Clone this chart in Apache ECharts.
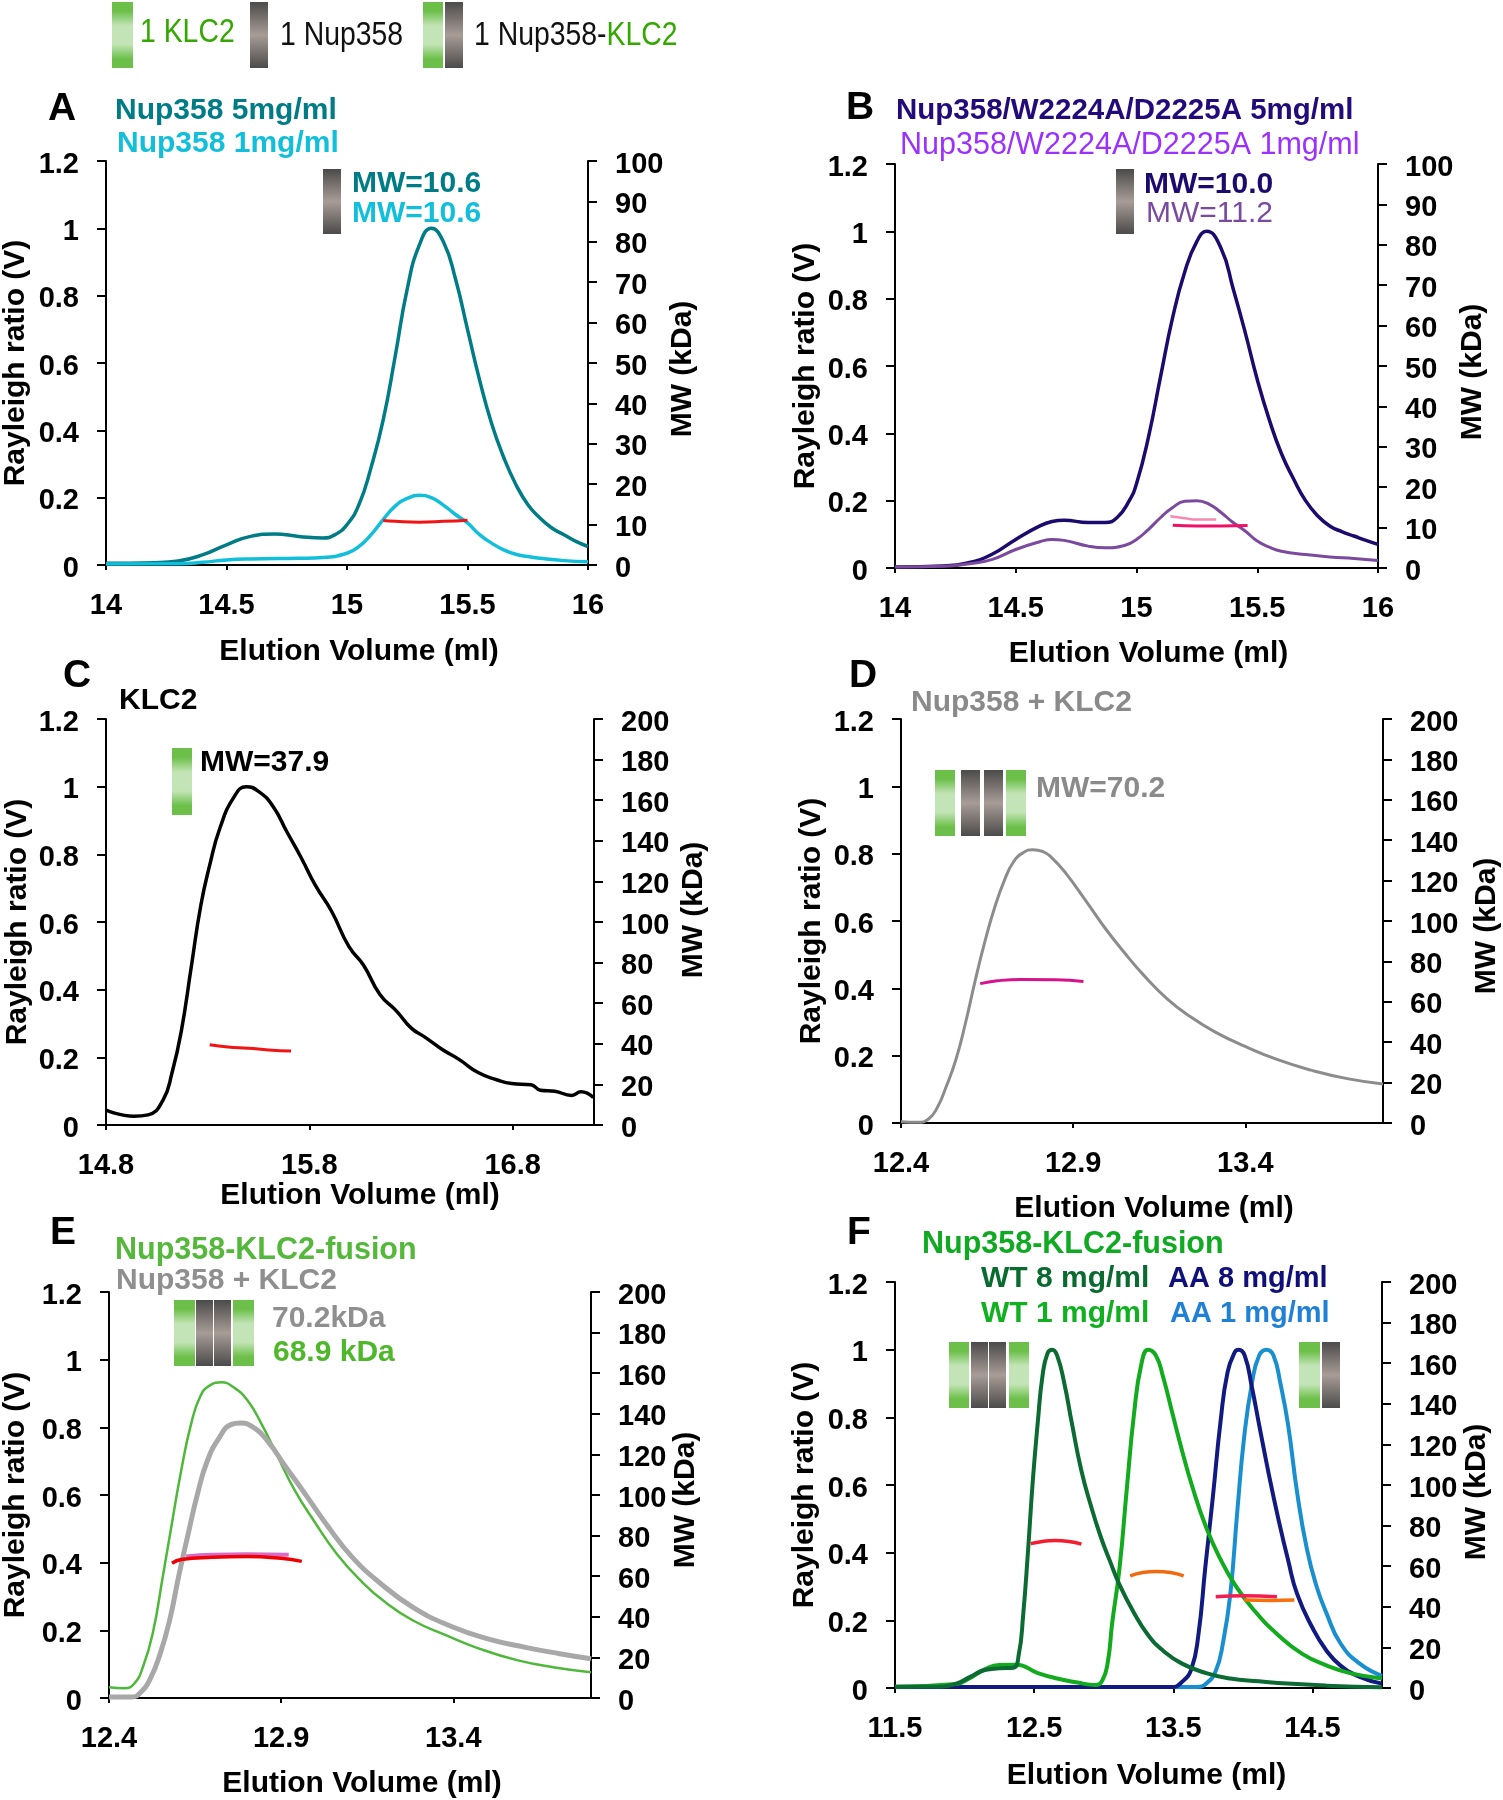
<!DOCTYPE html>
<html>
<head>
<meta charset="utf-8">
<title>SEC-MALS Nup358 KLC2</title>
<script src="https://cdn.jsdelivr.net/npm/echarts@6/dist/echarts.min.js"></script>
<style>
  html, body { margin: 0; padding: 0; background: #fff; }
  #chart { width: 1503px; height: 1800px; }
</style>
</head>
<body>
<div id="chart"></div>
<script>
// values, [elution volume, value]
const aRi5 = [[14,.005],[14.2,.007],[14.3,.012],[14.4,.03],[14.5,.06],[14.6,.085],[14.7,.092],[14.8,.085],[14.9,.08],[14.95,.09],[15,.12],[15.05,.18],[15.1,.29],[15.15,.43],[15.2,.62],[15.25,.82],[15.3,.95],[15.35,1],[15.4,.96],[15.45,.85],[15.5,.7],[15.55,.55],[15.6,.42],[15.65,.32],[15.7,.24],[15.75,.18],[15.8,.14],[15.85,.11],[15.9,.09],[15.95,.07],[16,.055]]
const aRi1 = [[14,.003],[14.3,.004],[14.4,.008],[14.5,.015],[14.6,.018],[14.8,.02],[14.9,.022],[15,.035],[15.05,.055],[15.1,.09],[15.15,.135],[15.2,.175],[15.25,.198],[15.3,.207],[15.35,.2],[15.4,.178],[15.45,.15],[15.5,.125],[15.55,.09],[15.6,.065],[15.65,.045],[15.7,.032],[15.75,.025],[15.8,.02],[15.9,.013],[16,.01]]
const aMw = [[15.15,11],[15.2,10.8],[15.3,10.6],[15.4,10.8],[15.5,11.1]]

const bRi5 = [[14,.003],[14.2,.006],[14.3,.015],[14.4,.04],[14.5,.085],[14.6,.125],[14.65,.138],[14.7,.142],[14.8,.135],[14.87,.135],[14.92,.15],[14.97,.2],[15,.25],[15.05,.39],[15.1,.57],[15.15,.745],[15.2,.88],[15.25,.97],[15.29,1],[15.35,.95],[15.4,.83],[15.45,.7],[15.5,.56],[15.55,.44],[15.6,.34],[15.65,.265],[15.7,.2],[15.75,.155],[15.8,.125],[15.85,.108],[15.9,.095],[15.95,.082],[16,.07]]
const bRi1 = [[14,.003],[14.2,.005],[14.3,.012],[14.4,.025],[14.5,.055],[14.6,.078],[14.65,.085],[14.7,.082],[14.8,.065],[14.87,.06],[14.95,.067],[15,.085],[15.05,.115],[15.1,.15],[15.15,.18],[15.2,.198],[15.25,.2],[15.3,.19],[15.35,.165],[15.4,.135],[15.45,.11],[15.5,.08],[15.55,.062],[15.6,.05],[15.7,.04],[15.8,.033],[15.9,.028],[16,.022]]
const bMw1 = [[15.14,12.8],[15.2,12.3],[15.25,12],[15.33,12]]
const bMw5 = [[15.15,10.6],[15.25,10.4],[15.35,10.4],[15.46,10.5]]

const cRi = [[14.8,.044],[14.936,.026],[15.007,.03],[15.08,.073],[15.125,.155],[15.17,.276],[15.22,.47],[15.266,.648],[15.31,.768],[15.36,.877],[15.43,.97],[15.49,1],[15.548,.987],[15.62,.943],[15.69,.866],[15.76,.79],[15.83,.708],[15.91,.631],[15.995,.527],[16.066,.473],[16.148,.385],[16.23,.336],[16.3,.287],[16.37,.259],[16.454,.223],[16.536,.194],[16.63,.155],[16.725,.133],[16.795,.1225],[16.89,.119],[16.936,.103],[17.007,.1],[17.09,.0875],[17.136,.098],[17.197,.081]]
const cMw = [[15.31,39.5],[15.4,38.4],[15.5,37.8],[15.6,37],[15.71,36.4]]

const dRi = [[12.4,.004],[12.449,.002],[12.48,.012],[12.505,.045],[12.532,.11],[12.56,.19],[12.588,.3],[12.616,.425],[12.644,.54],[12.672,.64],[12.7,.72],[12.727,.776],[12.755,.803],[12.783,.812],[12.811,.807],[12.839,.787],[12.88,.74],[12.937,.66],[12.992,.58],[13.048,.507],[13.104,.44],[13.173,.369],[13.243,.314],[13.313,.27],[13.396,.229],[13.494,.188],[13.591,.157],[13.7,.131],[13.8,.116]]
const dMw = [[12.63,69],[12.68,70.4],[12.75,71.1],[12.85,70.9],[12.93,70]]

const eRiFusion = [[12.4,.032],[12.445,.029],[12.473,.042],[12.5,.096],[12.528,.196],[12.555,.351],[12.583,.518],[12.61,.674],[12.638,.808],[12.665,.891],[12.693,.924],[12.727,.933],[12.761,.919],[12.802,.88],[12.844,.808],[12.885,.724],[12.94,.613],[12.995,.524],[13.063,.424],[13.132,.346],[13.2,.285],[13.283,.229],[13.38,.185],[13.475,.146],[13.585,.112],[13.695,.09],[13.8,.076]]
const eRiMix = [[12.4,.003],[12.466,.003],[12.493,.018],[12.52,.057],[12.548,.129],[12.576,.229],[12.603,.363],[12.63,.485],[12.658,.607],[12.686,.702],[12.72,.769],[12.754,.808],[12.782,.813],[12.816,.802],[12.858,.763],[12.912,.685],[12.967,.607],[13.036,.507],[13.105,.418],[13.187,.34],[13.283,.268],[13.393,.212],[13.503,.174],[13.613,.149],[13.709,.131],[13.8,.116]]
const eMwMix = [[12.624,69.7],[12.7,70.6],[12.8,70.8],[12.922,70.6]]
const eMwFusion = [[12.583,66.4],[12.61,68.2],[12.7,69.3],[12.8,69.7],[12.9,68.8],[12.96,67.3]]

const fWt8 = [[11.5,.004],[11.835,.004],[11.94,.013],[12.04,.033],[12.145,.053],[12.25,.058],[12.35,.06],[12.39,.1],[12.42,.21],[12.457,.411],[12.49,.611],[12.527,.789],[12.56,.922],[12.596,.989],[12.63,1],[12.665,.983],[12.717,.9],[12.77,.785],[12.838,.645],[12.907,.54],[12.976,.45],[13.045,.375],[13.114,.305],[13.218,.222],[13.32,.156],[13.425,.111],[13.563,.072],[13.736,.044],[13.91,.028],[14.117,.02],[14.32,.013],[14.6,.007],[15,.002]]
const fWt1 = [[11.5,.004],[11.94,.012],[12.04,.03],[12.145,.055],[12.25,.068],[12.37,.069],[12.527,.044],[12.665,.028],[12.8,.017],[12.94,.009],[12.99,.022],[13.03,.078],[13.06,.189],[13.114,.356],[13.166,.589],[13.218,.811],[13.27,.956],[13.32,1],[13.375,.983],[13.425,.922],[13.495,.81],[13.564,.7],[13.633,.6],[13.736,.475],[13.84,.38],[13.944,.305],[14.08,.23],[14.255,.156],[14.43,.1],[14.6,.067],[14.77,.044],[15,.028]]
const fAa8 = [[11.5,.003],[13.49,.003],[13.56,.017],[13.63,.056],[13.68,.156],[13.73,.356],[13.785,.567],[13.84,.789],[13.89,.933],[13.944,.994],[13.97,1],[14.013,.983],[14.065,.889],[14.117,.778],[14.186,.633],[14.255,.5],[14.325,.378],[14.39,.278],[14.5,.178],[14.6,.111],[14.7,.067],[14.84,.033],[15,.013]]
const fAa1 = [[11.5,.003],[13.67,.003],[13.736,.013],[13.805,.05],[13.857,.133],[13.91,.278],[13.96,.522],[14.01,.744],[14.065,.9],[14.117,.983],[14.17,1],[14.22,.983],[14.27,.9],[14.325,.778],[14.39,.578],[14.46,.411],[14.53,.3],[14.6,.222],[14.7,.133],[14.84,.072],[15,.036]]
const fMwWt8 = [[12.475,71.1],[12.56,72.2],[12.65,72.6],[12.75,72.2],[12.84,70.9]]
const fMwWt1 = [[13.19,55.2],[13.28,56.9],[13.38,57.4],[13.48,56.9],[13.575,55.2]]
const fMwAa8 = [[13.805,45],[14,45.4],[14.245,45]]
const fMwAa1 = [[14.01,43.3],[14.2,43.1],[14.37,43.3]]

const xTicksAB = [14, 14.5, 15, 15.5, 16]
const xTicksC = [14.8, 15.8, 16.8]
const xTicksDE = [12.4, 12.9, 13.4]
const xTicksF = [11.5, 12.5, 13.5, 14.5]

const FONT = '"Liberation Sans", Arial, sans-serif'
const GREEN_BAR = new echarts.graphic.LinearGradient(0, 0, 0, 1, [
  { offset: 0, color: '#6cc04a' }, { offset: 0.14, color: '#6cc04a' },
  { offset: 0.36, color: '#c3e4b6' }, { offset: 0.64, color: '#c3e4b6' },
  { offset: 0.86, color: '#6cc04a' }, { offset: 1, color: '#6cc04a' }
])
const GRAY_BAR = new echarts.graphic.LinearGradient(0, 0, 0, 1, [
  { offset: 0, color: '#4b4b4b' }, { offset: 0.5, color: '#a89c96' }, { offset: 1, color: '#4b4b4b' }
])

// one entry per panel, pixel layout of the plot area and its axis labels
const panels = [
  { left: 105, right: 588, top: 161, bottom: 565, xMin: 14, xMax: 16, xTicks: xTicksAB, mwMax: 100, mwStep: 10,
    xGap: 72, xShift: 12, yGap: 75, mwGap: 80, mwShift: 6,
    lines: [
      { data: aRi5, color: '#007c86', width: 3.5 }, { data: aRi1, color: '#12bfdb', width: 3.5 },
      { data: aMw, color: '#f01414', width: 3, mw: true }
    ] },
  { left: 895, right: 1378, top: 164, bottom: 568, xMin: 14, xMax: 16, xTicks: xTicksAB, mwMax: 100, mwStep: 10,
    xGap: 71, xShift: 12, yGap: 74, mwGap: 78, mwShift: 6,
    lines: [
      { data: bRi5, color: '#1c0a6e', width: 3.5 }, { data: bRi1, color: '#7b4a9e', width: 3 },
      { data: bMw1, color: '#f58ab0', width: 2.5, mw: true }, { data: bMw5, color: '#ee1166', width: 3, mw: true }
    ] },
  { left: 106, right: 594, top: 719, bottom: 1125, xMin: 14.8, xMax: 17.2, xTicks: xTicksC, mwMax: 200, mwStep: 20,
    xGap: 48, xShift: 10, yGap: 73, mwGap: 85, mwShift: -12,
    lines: [
      { data: cRi, color: '#000000', width: 3.5 }, { data: cMw, color: '#f01414', width: 3, mw: true }
    ] },
  { left: 901, right: 1384, top: 719, bottom: 1123, xMin: 12.4, xMax: 13.8, xTicks: xTicksDE, mwMax: 200, mwStep: 20,
    xGap: 71, xShift: 12, yGap: 74, mwGap: 89, mwShift: 5,
    lines: [
      { data: dRi, color: '#8c8c8c', width: 3 }, { data: dMw, color: '#d6128c', width: 3, mw: true }
    ] },
  { left: 104, right: 591, top: 1292, bottom: 1698, xMin: 12.4, xMax: 13.8, xTicks: xTicksDE, mwMax: 200, mwStep: 20,
    xGap: 71, xShift: 12, yGap: 78, mwGap: 75, mwShift: 5,
    lines: [
      { data: eRiFusion, color: '#4fb83a', width: 2.5 }, { data: eRiMix, color: '#a8a8a8', width: 5 },
      { data: eMwMix, color: '#d66cc8', width: 4, mw: true }, { data: eMwFusion, color: '#f00000', width: 3.5, mw: true }
    ] },
  { left: 895, right: 1382, top: 1282, bottom: 1688, xMin: 11.5, xMax: 15, xTicks: xTicksF, mwMax: 200, mwStep: 20,
    xGap: 73, xShift: 8, yGap: 75, mwGap: 73, mwShift: 7,
    lines: [
      { data: fAa1, color: '#1a8fd0', width: 4 }, { data: fAa8, color: '#101a80', width: 4 },
      { data: fWt1, color: '#12ab1e', width: 4 }, { data: fWt8, color: '#0b6b33', width: 4 },
      { data: fMwWt8, color: '#f51d30', width: 3.5, mw: true }, { data: fMwWt1, color: '#f06a10', width: 3.5, mw: true },
      { data: fMwAa8, color: '#f51d50', width: 3.5, mw: true }, { data: fMwAa1, color: '#f8700a', width: 3.5, mw: true }
    ] }
]

function label (x, y, text, fill, size, weight) {
  return {
    type: 'text', silent: true, z: 20,
    style: { x, y: y + 2, text, fill, fontFamily: FONT, fontSize: size || 30, fontWeight: weight || 'bold', align: 'left', verticalAlign: 'middle' }
  }
}

// the key at the top is set narrow and tall
function keyLabel (x, y, text, rich) {
  return {
    type: 'text', silent: true, z: 20, x, y, scaleX: 0.86,
    style: { text, fill: '#111', fontFamily: FONT, fontSize: 33, align: 'left', verticalAlign: 'middle', rich }
  }
}

function bar (x0, x1, y0, y1, fill) {
  return { type: 'rect', silent: true, z: 15, shape: { x: x0, y: y0, width: x1 - x0, height: y1 - y0 }, style: { fill } }
}

function annotations () {
  const keyGreen = { fill: '#33a800', fontFamily: FONT, fontSize: 33 }
  const keyDark = { fill: '#111', fontFamily: FONT, fontSize: 33 }
  return [
    // key at the top
    bar(112, 133, 2, 68, GREEN_BAR),
    keyLabel(140, 33, '{b|1 KLC2}', { b: keyGreen }),
    bar(250, 268, 2, 68, GRAY_BAR),
    keyLabel(280, 36, '1 Nup358'),
    bar(423, 443, 2, 68, GREEN_BAR),
    bar(445, 463, 2, 68, GRAY_BAR),
    keyLabel(474, 36, '{a|1 Nup358-}{b|KLC2}', { a: keyDark, b: keyGreen }),
    // A
    label(48, 107, 'A', '#000', 39),
    label(115, 109, 'Nup358 5mg/ml', '#007c86'),
    label(117, 142, 'Nup358 1mg/ml', '#12bfdb'),
    bar(323, 341, 169, 234, GRAY_BAR),
    label(352, 182, 'MW=10.6', '#007c86'),
    label(352, 212, 'MW=10.6', '#12bfdb'),
    // B
    label(846, 106, 'B', '#000', 39),
    label(896, 109, 'Nup358/W2224A/D2225A 5mg/ml', '#220a7a', 29.5),
    label(900, 144, 'Nup358/W2224A/D2225A 1mg/ml', '#9b30ff', 30.5, 'normal'),
    bar(1116, 1134, 169, 234, GRAY_BAR),
    label(1144, 183, 'MW=10.0', '#1c0a6e'),
    label(1146, 212, 'MW=11.2', '#7a4aa0', 30, 'normal'),
    // C
    label(63, 674, 'C', '#000', 39),
    label(119, 699, 'KLC2', '#000'),
    bar(172, 192, 748, 815, GREEN_BAR),
    label(200, 761, 'MW=37.9', '#000'),
    // D
    label(849, 674, 'D', '#000', 39),
    label(911, 701, 'Nup358 + KLC2', '#8a8a8a'),
    bar(935, 955, 770, 836, GREEN_BAR),
    bar(961, 980, 770, 836, GRAY_BAR),
    bar(984, 1003, 770, 836, GRAY_BAR),
    bar(1006, 1026, 770, 836, GREEN_BAR),
    label(1036, 787, 'MW=70.2', '#8a8a8a'),
    // E
    label(50, 1231, 'E', '#000', 39),
    label(115, 1249, 'Nup358-KLC2-fusion', '#54b83a', 30.5),
    label(116, 1279, 'Nup358 + KLC2', '#8f8f8f'),
    bar(174, 195, 1300, 1366, GREEN_BAR),
    bar(196, 213, 1300, 1366, GRAY_BAR),
    bar(214, 231, 1300, 1366, GRAY_BAR),
    bar(233, 254, 1300, 1366, GREEN_BAR),
    label(272, 1317, '70.2kDa', '#8f8f8f'),
    label(273, 1351, '68.9 kDa', '#4fb82a'),
    // F
    label(847, 1231, 'F', '#000', 39),
    label(922, 1243, 'Nup358-KLC2-fusion', '#0faa22', 30.5),
    label(981, 1277, 'WT 8 mg/ml', '#0a6b30'),
    label(1168, 1277, 'AA 8 mg/ml', '#10107a', 29),
    label(981, 1312, 'WT 1 mg/ml', '#10b020'),
    label(1170, 1312, 'AA 1 mg/ml', '#1f80d5', 29),
    bar(949, 969, 1342, 1408, GREEN_BAR),
    bar(971, 988, 1342, 1408, GRAY_BAR),
    bar(989, 1006, 1342, 1408, GRAY_BAR),
    bar(1009, 1029, 1342, 1408, GREEN_BAR),
    bar(1299, 1320, 1342, 1408, GREEN_BAR),
    bar(1322, 1340, 1342, 1408, GRAY_BAR)
  ]
}

function initOption () {
  const axisLine = { show: true, onZero: false, lineStyle: { color: '#000', width: 2 } }
  const tickLabel = { color: '#000', fontFamily: FONT, fontWeight: 'bold', fontSize: 29 }
  const nameStyle = { color: '#000', fontFamily: FONT, fontWeight: 'bold', fontSize: 30 }
  // y tick labels sit a little under their tick in the picture
  const yLabel = {
    margin: 27,
    formatter: '{v|{value}}',
    rich: { v: Object.assign({ padding: [7, 0, 0, 0] }, tickLabel) }
  }
  const grid = []
  const xAxis = []
  const yAxis = []
  const series = []

  panels.forEach((p, i) => {
    grid.push({ left: p.left, top: p.top, width: p.right - p.left, height: p.bottom - p.top, containLabel: false })
    xAxis.push({
      gridIndex: i,
      type: 'value',
      min: p.xMin,
      max: p.xMax,
      name: 'Elution Volume (ml)',
      nameLocation: 'middle',
      nameGap: p.xGap,
      nameTextStyle: Object.assign({ padding: [0, 0, 0, p.xShift * 2] }, nameStyle),
      splitLine: { show: false },
      axisLine,
      axisTick: { show: true, length: 5, customValues: p.xTicks, lineStyle: { color: '#000', width: 2 } },
      axisLabel: Object.assign({ margin: 26, customValues: p.xTicks }, tickLabel)
    })
    yAxis.push({
      gridIndex: i,
      type: 'value',
      position: 'left',
      min: 0,
      max: 1.2,
      interval: 0.2,
      name: 'Rayleigh ratio (V)',
      nameLocation: 'middle',
      nameGap: p.yGap,
      nameTextStyle: nameStyle,
      splitLine: { show: false },
      axisLine,
      axisTick: { show: true, length: 9, lineStyle: { color: '#000', width: 2 } },
      axisLabel: yLabel
    })
    yAxis.push({
      gridIndex: i,
      type: 'value',
      position: 'right',
      min: 0,
      max: p.mwMax,
      interval: p.mwStep,
      name: 'MW (kDa)',
      nameLocation: 'middle',
      nameRotate: 90,
      nameGap: p.mwGap,
      nameTextStyle: Object.assign({
        padding: p.mwShift > 0 ? [0, p.mwShift * 2, 0, 0] : [0, 0, 0, -p.mwShift * 2]
      }, nameStyle),
      splitLine: { show: false },
      axisLine,
      axisTick: { show: true, length: 9, lineStyle: { color: '#000', width: 2 } },
      axisLabel: yLabel
    })
    p.lines.forEach(l => {
      series.push({
        type: 'line',
        xAxisIndex: i,
        yAxisIndex: l.mw ? i * 2 + 1 : i * 2,
        data: l.data,
        showSymbol: false,
        symbol: 'none',
        smooth: 0.5,
        lineStyle: { color: l.color, width: l.width }
      })
    })
  })

  return { animation: false, backgroundColor: '#fff', grid, xAxis, yAxis, series, graphic: annotations() }
}

const myChart = echarts.init(document.getElementById('chart'))
myChart.setOption(initOption())
</script>
</body>
</html>
